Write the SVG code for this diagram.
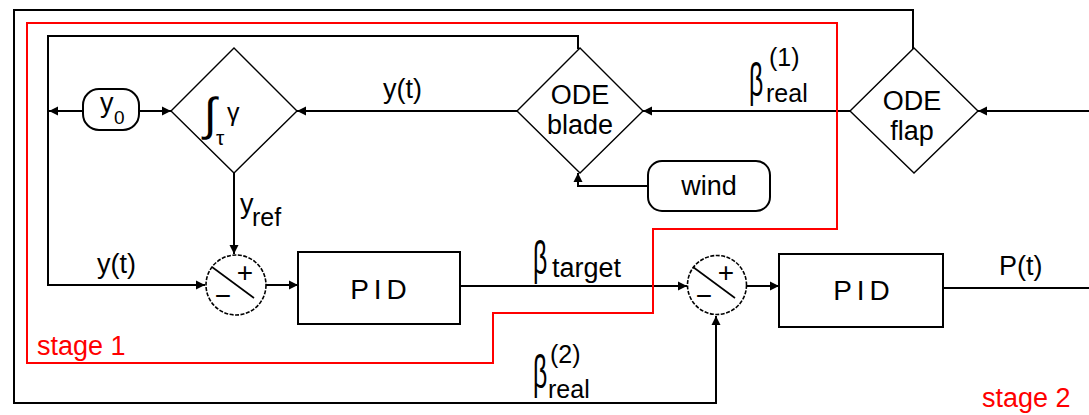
<svg xmlns="http://www.w3.org/2000/svg" width="1089" height="415" viewBox="0 0 1089 415">
<defs>
<style>
text{font-family:"Liberation Sans",Arial,sans-serif;fill:#000}
.t{font-size:27px}
.s{font-size:25px}
.red{fill:#ff0000}
.ln{fill:none;stroke:#000;stroke-width:2}
.dia{fill:#fff;stroke:#000;stroke-width:1.4}
.box{fill:#fff;stroke:#000;stroke-width:2}
.sum{fill:#fff;stroke:#000;stroke-width:1.6;stroke-dasharray:4 1.5}
.op{font-size:28px}
</style>
<marker id="ah" viewBox="0 0 10 10" refX="10" refY="5" markerWidth="9" markerHeight="10" markerUnits="userSpaceOnUse" orient="auto">
<path d="M0,0 L10,5 L0,10 Z" fill="#000"/>
</marker>
</defs>
<rect width="1089" height="415" fill="#fff"/>
<g id="connectors">
<path class="ln" d="M913,49 V10 H14 V403 H716 V316" marker-end="url(#ah)"/>
<path class="ln" d="M578,49 V36 H48 V285 H205" marker-end="url(#ah)"/>
<path class="ln" d="M83,111 H49" marker-end="url(#ah)"/>
<path class="ln" d="M139,111 H171" marker-end="url(#ah)"/>
<path class="ln" d="M517,111 H297" marker-end="url(#ah)"/>
<path class="ln" d="M850,111 H643" marker-end="url(#ah)"/>
<path class="ln" d="M1089,111 H978" marker-end="url(#ah)"/>
<path class="ln" d="M234,173 V254" marker-end="url(#ah)"/>
<path class="ln" d="M266,285 H298" marker-end="url(#ah)"/>
<path class="ln" d="M460,286 H687" marker-end="url(#ah)"/>
<path class="ln" d="M746,286 H779" marker-end="url(#ah)"/>
<path class="ln" d="M943,288 H1089"/>
<path class="ln" d="M648,186 H578 V173" marker-end="url(#ah)"/>
</g>
<g id="stage1">
<path d="M27,23 H837 V229 H653 V313 H493 V363 H27 Z" fill="none" stroke="#ff0000" stroke-width="2"/>
<text class="red" x="37" y="355" style="font-size:27px">stage 1</text>
</g>
<g id="stage2">
<text class="red" x="982" y="407" style="font-size:27px">stage 2</text>
</g>
<g id="y0">
<rect x="83" y="89" width="56" height="41" rx="16" class="box" stroke-width="1.6"/>
<text class="t" x="100" y="112">y</text>
<text x="114" y="124" style="font-size:19px">0</text>
</g>
<g id="integrator">
<path class="dia" d="M234,48 L297,111 L234,173 L171,111 Z"/>
<text x="204" y="130" style="font-size:46px">∫</text>
<text x="227" y="121" style="font-size:25px">γ</text>
<text x="216" y="145" style="font-size:21px">τ</text>
</g>
<g id="blade">
<path class="dia" d="M580,48 L643,111 L580,173 L517,111 Z"/>
<text class="t" x="580" y="104" text-anchor="middle">ODE</text>
<text class="t" x="580" y="134" text-anchor="middle">blade</text>
</g>
<g id="flap">
<path class="dia" d="M914,48 L978,111 L914,173 L850,111 Z"/>
<text class="t" x="912" y="110" text-anchor="middle">ODE</text>
<text class="t" x="912" y="140" text-anchor="middle">flap</text>
</g>
<g id="wind">
<rect x="648" y="161" width="122" height="50" rx="14" class="box" stroke-width="1.6"/>
<text class="t" x="709" y="195" text-anchor="middle">wind</text>
</g>
<g id="sum1">
<circle cx="236" cy="285" r="30" class="sum"/>
<line x1="212" y1="267" x2="254" y2="298" stroke="#000" stroke-width="1.6"/>
<text class="op" x="245" y="282" text-anchor="middle">+</text>
<text class="op" x="223" y="305" text-anchor="middle">−</text>
</g>
<g id="pid1">
<rect x="298" y="252" width="162" height="72" class="box"/>
<text x="381" y="299" text-anchor="middle" style="font-size:28px;letter-spacing:5px">PID</text>
</g>
<g id="sum2">
<circle cx="717" cy="285" r="29.5" class="sum"/>
<line x1="693" y1="267" x2="735" y2="298" stroke="#000" stroke-width="1.6"/>
<text class="op" x="726" y="282" text-anchor="middle">+</text>
<text class="op" x="704" y="305" text-anchor="middle">−</text>
</g>
<g id="pid2">
<rect x="779" y="254" width="164" height="73" class="box"/>
<text x="864" y="300" text-anchor="middle" style="font-size:28px;letter-spacing:5px">PID</text>
</g>
<g id="labels">
<text class="t" x="383" y="98">y(t)</text>
<text class="t" x="97" y="273">y(t)</text>
<text class="t" x="240" y="213">y</text>
<text class="s" x="252" y="226">ref</text>
<text class="t" x="999" y="275">P(t)</text>
<text transform="translate(749,96) scale(0.62,1.15)" style="font-size:40px">β</text>
<text class="s" x="769" y="66">(1)</text>
<text class="s" x="766" y="102">real</text>
<text transform="translate(533,274) scale(0.62,1.15)" style="font-size:40px">β</text>
<text class="t" x="552" y="277">target</text>
<text transform="translate(533,388) scale(0.62,1.15)" style="font-size:40px">β</text>
<text class="s" x="550" y="363">(2)</text>
<text class="s" x="548" y="398">real</text>
</g>
</svg>
